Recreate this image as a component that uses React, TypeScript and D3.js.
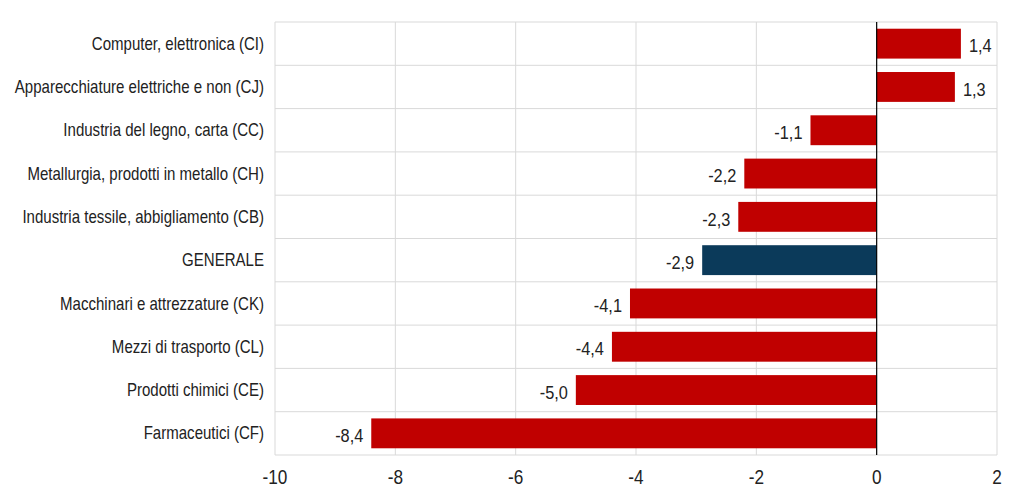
import React, { useEffect, useRef } from 'react';
import * as d3 from 'd3';

const categories = [
  'Computer, elettronica (CI)',
  'Apparecchiature elettriche e non (CJ)',
  'Industria del legno, carta (CC)',
  'Metallurgia, prodotti in metallo (CH)',
  'Industria tessile, abbigliamento (CB)',
  'GENERALE',
  'Macchinari e attrezzature (CK)',
  'Mezzi di trasporto (CL)',
  'Prodotti chimici (CE)',
  'Farmaceutici (CF)',
];
const values = [1.4, 1.3, -1.1, -2.2, -2.3, -2.9, -4.1, -4.4, -5.0, -8.4];
const xTicks = [-10, -8, -6, -4, -2, 0, 2];

const App = () => {
  const ref = useRef<SVGSVGElement>(null);

  useEffect(() => {
    const width = 1024;
    const height = 501;
    const margin = { top: 22, right: 27, bottom: 46, left: 275 };
    const font = '"Liberation Sans Narrow", "Arial Narrow", "Liberation Sans", Arial, sans-serif';
    const narrow = 0.86; // squeeze to mimic a condensed face

    const svg = d3.select(ref.current);
    svg.selectAll('*').remove();

    const x = d3.scaleLinear().domain([-10, 2]).range([margin.left, width - margin.right]);
    const y = d3
      .scaleBand()
      .domain(categories)
      .range([margin.top, height - margin.bottom])
      .paddingInner(0.31)
      .paddingOuter(0.155);
    const band = d3
      .scaleBand()
      .domain(categories)
      .range([margin.top, height - margin.bottom]);

    // grid
    svg
      .append('g')
      .selectAll('line')
      .data(xTicks.filter((t) => t !== 0))
      .join('line')
      .attr('x1', (d) => x(d))
      .attr('x2', (d) => x(d))
      .attr('y1', margin.top)
      .attr('y2', height - margin.bottom)
      .attr('stroke', '#d9d9d9');

    const hLines = [margin.top, ...categories.map((c) => band(c)! + band.bandwidth())];
    svg
      .append('g')
      .selectAll('line')
      .data(hLines)
      .join('line')
      .attr('x1', margin.left)
      .attr('x2', width - margin.right)
      .attr('y1', (d) => d)
      .attr('y2', (d) => d)
      .attr('stroke', '#d9d9d9');

    // bars
    svg
      .append('g')
      .selectAll('rect')
      .data(values)
      .join('rect')
      .attr('x', (d) => x(Math.min(0, d)))
      .attr('y', (_, i) => y(categories[i])!)
      .attr('width', (d) => Math.abs(x(d) - x(0)))
      .attr('height', y.bandwidth())
      .attr('fill', (_, i) => (categories[i] === 'GENERALE' ? '#0b3a5a' : '#c00000'));

    // zero line
    svg
      .append('line')
      .attr('x1', x(0))
      .attr('x2', x(0))
      .attr('y1', margin.top)
      .attr('y2', height - margin.bottom)
      .attr('stroke', '#000')
      .attr('stroke-width', 1.2);

    const fmt = (v: number) => v.toFixed(1).replace('.', ',');

    // value labels
    svg
      .append('g')
      .selectAll('text')
      .data(values)
      .join('text')
      .attr(
        'transform',
        (d, i) =>
          `translate(${d >= 0 ? x(d) + 8 : x(d) - 8},${band(categories[i])! + band.bandwidth() / 2 + 2}) scale(${narrow},1)`
      )
      .attr('dy', '0.35em')
      .attr('text-anchor', (d) => (d >= 0 ? 'start' : 'end'))
      .style('font-family', font)
      .style('font-size', '19px')
      .attr('fill', '#222')
      .text((d) => fmt(d));

    // category labels
    svg
      .append('g')
      .selectAll('text')
      .data(categories)
      .join('text')
      .attr(
        'transform',
        (d) => `translate(${margin.left - 11},${band(d)! + band.bandwidth() / 2}) scale(${narrow},1)`
      )
      .attr('dy', '0.35em')
      .attr('text-anchor', 'end')
      .style('font-family', font)
      .style('font-size', '17.5px')
      .attr('fill', '#222')
      .text((d) => d);

    // x tick labels
    svg
      .append('g')
      .selectAll('text')
      .data(xTicks)
      .join('text')
      .attr('transform', (d) => `translate(${x(d)},${height - margin.bottom + 22}) scale(${narrow},1)`)
      .attr('dy', '0.35em')
      .attr('text-anchor', 'middle')
      .style('font-family', font)
      .style('font-size', '20px')
      .attr('fill', '#222')
      .text((d) => String(d));
  }, []);

  return (
    <svg
      ref={ref}
      width={1024}
      height={501}
      style={{ position: 'absolute', left: 0, top: 0, background: '#fff' }}
    />
  );
};

export default App;
